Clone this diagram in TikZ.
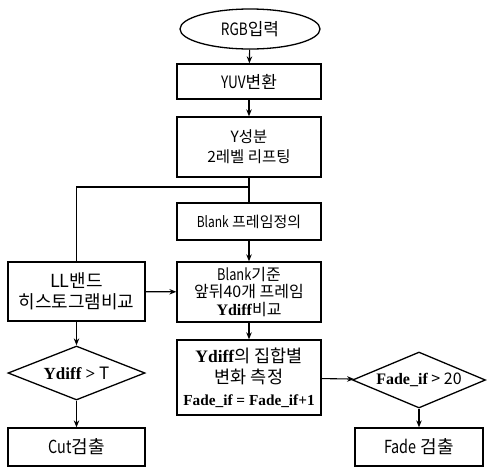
\documentclass[tikz,border=0pt]{standalone}
\usepackage{fontspec}
\setmainfont{Noto Sans CJK KR}
\newfontfamily\tms{Liberation Serif}
\newfontfamily\nar{Noto Sans CJK KR}[FakeStretch=0.8]
\usetikzlibrary{shapes.geometric,arrows.meta}
\tikzset{
  box/.style={draw, line width=1.3pt, rectangle, inner sep=0pt, align=center, font=\fontsize{15}{18}\selectfont},
  dia/.style={draw, line width=1.3pt, diamond, aspect=2.4, inner sep=0pt, font=\fontsize{15}{18}\selectfont},
  oval/.style={draw, line width=1.3pt, ellipse, inner sep=0pt, font=\fontsize{17}{18}\selectfont},
  arr/.style={line width=1.1pt, -{Stealth[length=7pt,width=5.5pt]}},
  ln/.style={line width=1.1pt}
}
\begin{document}
\begin{tikzpicture}[x=1pt,y=-1pt]
\useasboundingbox (0,0) rectangle (487,466);
\node[oval, minimum width=140, minimum height=40] (in) at (250,29) {{\nar RGB}입력};
\node[box, minimum width=144, minimum height=35, font=\fontsize{17}{18}\selectfont] (yuv) at (249,81.5) {{\nar YUV}변환};
\node[box, minimum width=144, minimum height=60, font=\fontsize{15.5}{20}\selectfont] (yc) at (249,147) {Y성분\\2레벨 리프팅};
\coordinate (j) at (249,187);
\node[box, minimum width=144, minimum height=37, font=\fontsize{15}{17}\selectfont] (bd) at (249,221.5) {{\nar Blank} 프레임정의};
\node[box, minimum width=144, minimum height=60, font=\fontsize{16}{17.5}\selectfont] (bc) at (249,292) {{\nar Blank}기준\\앞뒤40개 프레임\\{\tms\bfseries Ydiff}비교};
\node[box, minimum width=137, minimum height=59, font=\fontsize{18}{21}\selectfont] (ll) at (76.5,291.5) {LL밴드\\히스토그램비교};
\node[box, minimum width=144, minimum height=75, font=\fontsize{17.5}{21.5}\selectfont] (ys) at (249,377.5) {{\tms\bfseries Ydiff}의 집합별\\변화 측정\\{\fontsize{15.3}{18}\selectfont\tms\bfseries Fade\_if = Fade\_if+1}};
\node[dia, minimum width=137, minimum height=54, font=\fontsize{17}{18}\selectfont] (d1) at (76.5,373) {{\tms\bfseries Ydiff >} T};
\node[box, minimum width=137, minimum height=38, font=\fontsize{18}{18}\selectfont] (cut) at (76.5,447) {{\nar Cut}검출};
\node[dia, minimum width=133, minimum height=56, font=\fontsize{16}{18}\selectfont] (d2) at (419,380) {{\tms\bfseries Fade\_if} > 20};
\node[box, minimum width=128, minimum height=38, font=\fontsize{18}{18}\selectfont] (fd) at (419,447) {{\nar Fade} 검출};
\draw[arr] (in) -- (yuv);
\draw[arr] (yuv) -- (yc);
\draw[ln] (yc) -- (j) -- (bd);
\draw[ln] (j) -| (ll);
\draw[arr] (bd) -- (bc);
\draw[arr] (ll) -- (bc);
\draw[arr] (bc) -- (ys);
\draw[arr] (ys) -- (d2);
\draw[arr] (d2) -- (fd);
\draw[arr] (ll) -- (d1);
\draw[arr] (d1) -- (cut);
\end{tikzpicture}
\end{document}
